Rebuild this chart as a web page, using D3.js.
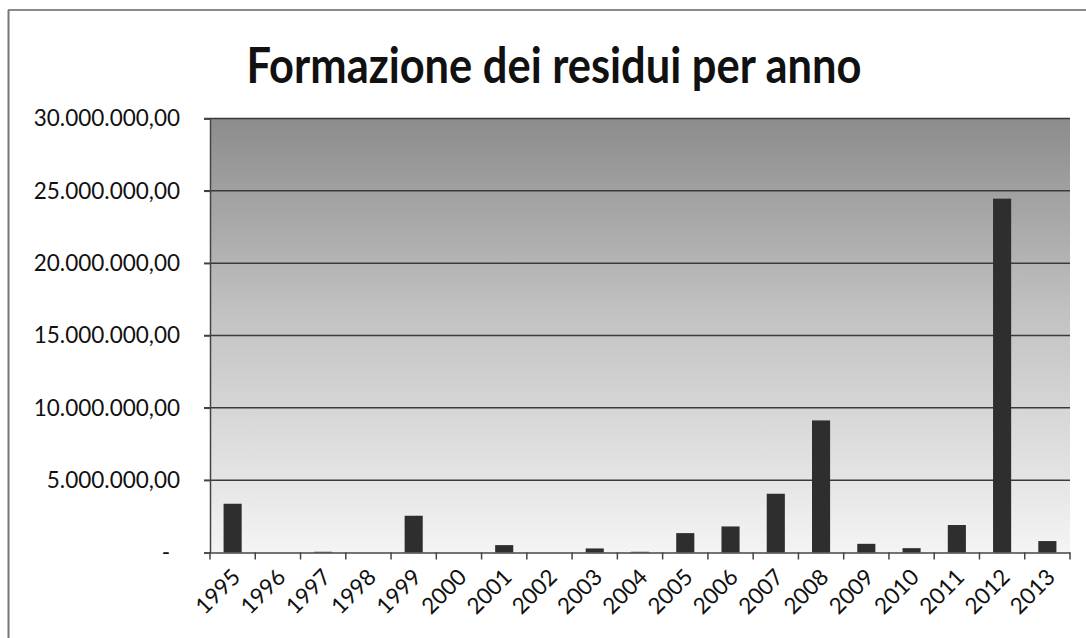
<!DOCTYPE html>
<html lang="it">
<head>
    <meta charset="UTF-8">
    <title>Formazione dei residui per anno</title>
    <script src="https://cdn.jsdelivr.net/npm/d3@7"></script>
    <style>
        html, body { margin: 0; padding: 0; overflow: hidden; background: #ffffff; }
        svg { display: block; }
        text { font-family: Lato, "Open Sans", sans-serif; fill: #111111; }
    </style>
</head>
<body>
    <div id="canvas"></div>

    <script>
        const years = ['1995', '1996', '1997', '1998', '1999', '2000', '2001', '2002', '2003', '2004',
                       '2005', '2006', '2007', '2008', '2009', '2010', '2011', '2012', '2013'];
        const residui = [3370000, 0, 50000, 0, 2540000, 0, 510000, 0, 280000, 50000,
                         1340000, 1800000, 4060000, 9130000, 600000, 300000, 1900000, 24460000, 790000];
        const yTicks = [0, 5000000, 10000000, 15000000, 20000000, 25000000, 30000000];
        const title = 'Formazione dei residui per anno';
    </script>

    <script>
        const width = 1086;
        const height = 638;
        const plot = { left: 210, right: 1070, top: 118.5, bottom: 552.5 };

        const svg = d3.select('#canvas')
            .append('svg')
            .attr('width', width)
            .attr('height', height);

        // outer frame (top and left edges visible)
        svg.append('line')
            .attr('x1', 8).attr('x2', width).attr('y1', 10).attr('y2', 10)
            .attr('stroke', '#8a8a8a').attr('stroke-width', 2);
        svg.append('line')
            .attr('x1', 8.5).attr('x2', 8.5).attr('y1', 10).attr('y2', height)
            .attr('stroke', '#777777').attr('stroke-width', 2);

        // title
        svg.append('text')
            .attr('x', 554)
            .attr('y', 83)
            .attr('text-anchor', 'middle')
            .style('font-size', '50px')
            .style('font-weight', 'bold')
            .attr('textLength', 615)
            .attr('lengthAdjust', 'spacingAndGlyphs')
            .text(title);

        const x = d3.scaleBand()
            .domain(years)
            .range([plot.left, plot.right])
            .paddingInner(0.6)
            .paddingOuter(0.3);

        const y = d3.scaleLinear()
            .domain([0, 30000000])
            .range([plot.bottom, plot.top]);

        // background gradient
        const defs = svg.append('defs');
        const grad = defs.append('linearGradient')
            .attr('id', 'bg')
            .attr('x1', 0).attr('x2', 0).attr('y1', 0).attr('y2', 1);
        grad.append('stop').attr('offset', '0%').attr('stop-color', '#8c8c8c');
        grad.append('stop').attr('offset', '45%').attr('stop-color', '#c2c2c2');
        grad.append('stop').attr('offset', '100%').attr('stop-color', '#f4f4f4');

        svg.append('rect')
            .attr('x', plot.left)
            .attr('y', plot.top)
            .attr('width', plot.right - plot.left)
            .attr('height', plot.bottom - plot.top)
            .attr('fill', 'url(#bg)');

        // gridlines
        svg.append('g')
            .selectAll('line')
            .data(yTicks.filter(d => d > 0))
            .join('line')
            .attr('x1', plot.left - 6)
            .attr('x2', plot.right)
            .attr('y1', d => y(d))
            .attr('y2', d => y(d))
            .attr('stroke', '#3a3a3a')
            .attr('stroke-width', 1.5);

        // y axis
        const fmt = d => d === 0 ? '-' : d3.format(',.2f')(d).replace(/,/g, '#').replace('.', ',').replace(/#/g, '.');
        const yAxis = svg.append('g')
            .attr('transform', `translate(${plot.left},0)`)
            .call(d3.axisLeft(y).tickValues(yTicks).tickFormat(fmt).tickSize(6).tickPadding(24));
        yAxis.select('.domain').attr('stroke', '#444444').attr('stroke-width', 1.5);
        yAxis.selectAll('.tick line').attr('stroke', '#444444').attr('stroke-width', 1.5);
        yAxis.selectAll('text')
            .style('font-size', '22.5px')
            .style('font-family', 'Lato, "Open Sans", sans-serif')
            .attr('fill', '#111111');
        yAxis.selectAll('.tick')
            .filter(d => d === 0)
            .select('text')
            .attr('x', -40);

        // bars
        svg.append('g')
            .selectAll('rect')
            .data(years)
            .join('rect')
            .attr('x', d => x(d))
            .attr('width', x.bandwidth())
            .attr('y', (d, i) => y(residui[i]))
            .attr('height', (d, i) => y(0) - y(residui[i]))
            .attr('fill', '#2e2e2e');

        // x axis
        const xAxis = svg.append('g')
            .attr('transform', `translate(0,${plot.bottom})`)
            .call(d3.axisBottom(x).tickSize(0).tickFormat(d => d));
        xAxis.select('.domain').attr('stroke', '#444444').attr('stroke-width', 1.5);
        xAxis.selectAll('text')
            .style('font-size', '22.5px')
            .style('font-family', 'Lato, "Open Sans", sans-serif')
            .attr('fill', '#111111')
            .attr('text-anchor', 'end')
            .attr('dy', null)
            .attr('y', 0)
            .attr('transform', 'translate(9,26) rotate(-45)');

        // category boundary ticks
        const boundaries = d3.range(years.length + 1).map(i => plot.left + i * (plot.right - plot.left) / years.length);
        svg.append('g')
            .selectAll('line')
            .data(boundaries)
            .join('line')
            .attr('x1', d => d).attr('x2', d => d)
            .attr('y1', plot.bottom).attr('y2', plot.bottom + 7)
            .attr('stroke', '#444444')
            .attr('stroke-width', 1.5);
    </script>
</body>
</html>
